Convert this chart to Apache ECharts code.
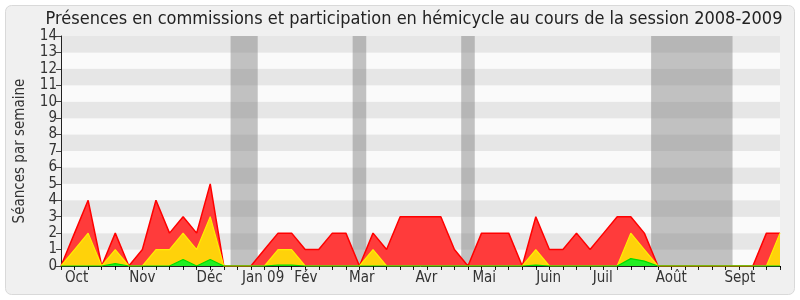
<!DOCTYPE html>
<html>
<head>
<meta charset="utf-8">
<script src="https://cdn.jsdelivr.net/npm/echarts@6/dist/echarts.min.js"></script>
<style>
html,body{margin:0;padding:0;background:#ffffff;}
#chart{width:800px;height:300px;}
</style>
</head>
<body>
<div id="chart"></div>
<script>
// Week index 0..53 (session 2008-2009)
const weeks = Array.from({length: 54}, (_, i) => i);
const hemicycle = [0,2,4,0,2,0,1,4,2,3,2,5,0,0,0,1,2,2,1,1,2,2,0,2,1,3,3,3,3,1,0,2,2,2,0,3,1,1,2,1,2,3,3,2,0,0,0,0,0,0,0,0,2,2];
const commissions = [0,1,2,0,1,0,0,1,1,2,1,3,0,0,0,0,1,1,0,0,0,0,0,1,0,0,0,0,0,0,0,0,0,0,0,1,0,0,0,0,0,0,2,1,0,0,0,0,0,0,0,0,0,2];
const interventions = [0,0,0,0,0.15,0,0,0,0,0.4,0,0.4,0,0,0,0,0.05,0.05,0,0,0,0,0,0,0,0,0,0,0,0,0,0,0,0,0,0.05,0,0,0,0,0,0,0.45,0.3,0,0,0,0,0,0,0,0,0,0];
// Vacation periods (in week index)
const vacances = [[12.5,14.5],[21.5,22.5],[29.5,30.5],[43.5,49.5]];
// Month labels and their positions (week index)
const monthLabels = ['Oct','Nov','Déc','Jan 09','Fév','Mar','Avr','Mai','Juin','Juil','Août','Sept'];
const monthPos = [1.15,6,10.96,14.9,18.05,22.17,26.93,31.2,35.95,39.93,44.99,50.04];
const yTicks = [0,1,2,3,4,5,6,7,8,9,10,11,12,13,14];

const FONT = '"DejaVu Sans Condensed", "DejaVu Sans"';
const chart = echarts.init(document.getElementById('chart'), null, {renderer: 'canvas'});

function pts(arr){ return weeks.map(i => [i, arr[i]]); }

const option = {
  animation: false,
  backgroundColor: '#ffffff',
  graphic: [{
    type: 'rect', z: -10, silent: true,
    shape: {x: 5.5, y: 5.5, width: 789, height: 289, r: 6},
    style: {fill: '#f0f0f0', stroke: '#d9d9d9', lineWidth: 1}
  }],
  title: {
    text: 'Présences en commissions et participation en hémicycle au cours de la session 2008-2009',
    left: 414, textAlign: 'center', top: 5,
    textStyle: {fontFamily: FONT, fontSize: 18, fontWeight: 'normal', color: '#222'}
  },
  grid: {left: 61, right: 20, top: 36, bottom: 34, containLabel: false},
  xAxis: [{
    type: 'value', min: 0, max: 53, interval: 1,
    axisLine: {show: true, onZero: false, lineStyle: {color: '#222', width: 1}},
    axisTick: {show: true, length: 4, lineStyle: {color: '#222'}},
    axisLabel: {
      show: true, customValues: monthPos, margin: 5,
      fontFamily: FONT, fontSize: 15, color: '#333',
      formatter: function(v){ const k = monthPos.indexOf(v); return k >= 0 ? monthLabels[k] : ''; }
    },
    splitLine: {show: false}
  },{
    type: 'value', min: 0, max: 53, interval: 1, position: 'top',
    axisLine: {show: false},
    axisTick: {show: true, inside: true, length: 2, lineStyle: {color: '#000'}},
    axisLabel: {show: false},
    splitLine: {show: false}
  }],
  yAxis: {
    type: 'value', min: 0, max: 14, interval: 1,
    name: 'Séances par semaine', nameLocation: 'middle', nameGap: 33,
    nameTextStyle: {fontFamily: FONT, fontSize: 15, color: '#333'},
    axisLine: {show: true, lineStyle: {color: '#222'}},
    axisTick: {show: true, length: 5, lineStyle: {color: '#444'}},
    axisLabel: {fontFamily: FONT, fontSize: 15, color: '#333', margin: 4,
      formatter: function(v){ return yTicks.indexOf(v) >= 0 ? String(v) : ''; }},
    splitLine: {show: false},
    splitArea: {show: true, areaStyle: {color: ['#fafafa', '#e6e6e6']}}
  },
  series: [
    {type: 'line', name: 'hemicycle', data: pts(hemicycle), showSymbol: false, symbol: 'none',
     lineStyle: {color: '#ff0000', width: 1.5}, areaStyle: {color: '#ff3b3b', opacity: 1}, z: 2},
    {type: 'line', name: 'commissions', data: pts(commissions), showSymbol: false, symbol: 'none',
     lineStyle: {color: '#ffee00', width: 1.2}, areaStyle: {color: '#ffd20a', opacity: 1}, z: 3},
    {type: 'line', name: 'interventions', data: pts(interventions), showSymbol: false, symbol: 'none',
     lineStyle: {color: '#00dd00', width: 1.2}, areaStyle: {color: '#22ee22', opacity: 1}, z: 4},
    {type: 'line', name: 'vacances', data: [], z: 10, silent: true,
     markArea: {silent: true, itemStyle: {color: 'rgba(125,125,125,0.45)'},
       data: vacances.map(v => [{xAxis: v[0], yAxis: 0}, {xAxis: v[1], yAxis: 14}])}}
  ]
};
option.title.left = 409;
chart.setOption(option);
</script>
</body>
</html>
